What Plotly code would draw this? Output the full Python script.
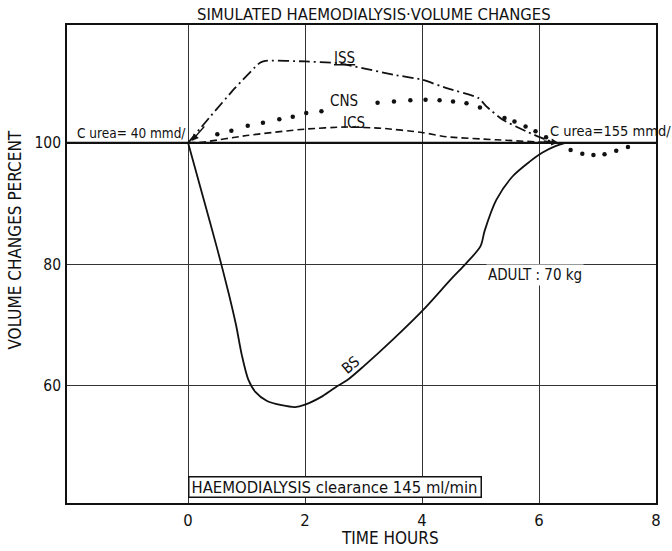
import plotly.graph_objects as go

# ---- data ----
iss_t = [0, 0.36, 0.8, 1.23, 1.32, 2.0, 2.56, 3.52, 4.0, 4.42, 4.96, 5.10, 5.38, 5.78, 6.12, 6.3]
iss_v = [100, 104.1, 109.0, 113.2, 113.5, 113.4, 113.1, 111.2, 110.4, 109.0, 107.4, 106.0, 103.8, 101.9, 100.5, 100]

cns_t = [0.50, 0.74, 1.02, 1.28, 1.56, 1.79, 2.02, 2.28, 3.24, 3.52, 3.80, 4.06, 4.30, 4.53, 4.76, 4.99,
         5.41, 5.58, 5.77, 5.94, 6.12, 6.54, 6.74, 6.93, 7.12, 7.32, 7.52]
cns_v = [101.4, 102.0, 102.8, 103.3, 103.9, 104.3, 104.9, 105.2, 106.6, 106.8, 107.0, 107.1, 107.0, 106.8,
         106.5, 105.8, 104.1, 103.5, 102.7, 101.9, 100.9, 98.8, 98.2, 98.0, 98.1, 98.7, 99.3]

ics_t = [0, 0.24, 1.0, 1.99, 2.7, 3.3, 4.0, 4.42, 5.27, 6.3]
ics_v = [100, 100.1, 101.2, 102.25, 102.6, 102.4, 101.7, 101.0, 100.5, 100]

bs_t = [0, 0.27, 0.5, 0.7, 0.82, 0.92, 1.03, 1.15, 1.35, 1.6, 1.83, 2.0, 2.3, 2.56, 2.73, 3.0, 3.5,
        4.02, 4.5, 4.73, 5.0, 5.07, 5.27, 5.55, 5.84, 6.06, 6.29, 6.45]
bs_v = [100, 90.6, 82.5, 75, 70, 65, 61.0, 59.0, 57.5, 56.8, 56.5, 56.9, 58.3, 60.0, 61.0, 63.2, 67.6,
        72.5, 77.6, 79.9, 83.0, 85.5, 90.6, 94.5, 96.9, 98.4, 99.5, 100]

x_ticks = [0, 2, 4, 6, 8]
y_ticks = [60, 80, 100]

FONT = "DejaVu Sans Condensed, Liberation Sans Narrow, sans-serif"
INK = "#111"

fig = go.Figure()

# baseline 100 %
fig.add_trace(go.Scatter(x=[-2.07, 8], y=[100, 100], mode="lines",
                         line=dict(color=INK, width=2.2), hoverinfo="skip"))

fig.add_trace(go.Scatter(x=iss_t, y=iss_v, mode="lines", name="ISS",
                         line=dict(color=INK, width=1.8, dash="11px,4px,2px,4px",
                                   shape="spline", smoothing=0.5)))
fig.add_trace(go.Scatter(x=ics_t, y=ics_v, mode="lines", name="ICS",
                         line=dict(color=INK, width=1.6, dash="7px,4px",
                                   shape="spline", smoothing=0.6)))
fig.add_trace(go.Scatter(x=cns_t, y=cns_v, mode="markers", name="CNS",
                         marker=dict(color=INK, size=4.5)))
fig.add_trace(go.Scatter(x=bs_t, y=bs_v, mode="lines", name="BS",
                         line=dict(color=INK, width=1.8, shape="spline", smoothing=0.8)))

ann = []
def txt(x, y, s, size=14, **kw):
    d = dict(x=x, y=y, text=s, showarrow=False, xanchor="center", yanchor="middle",
             font=dict(family=FONT, size=size, color=INK))
    d.update(kw)
    ann.append(d)

txt(0.522, 1.023, "SIMULATED HAEMODIALYSIS·VOLUME CHANGES", size=16.5, xref="paper", yref="paper")
txt(3.46, -0.073, "TIME HOURS", size=17, yref="paper")
txt(-0.0875, 0.55, "VOLUME CHANGES PERCENT", size=17, xref="paper", yref="paper", textangle=-90)
txt(2.68, 113.9, "<u>ISS</u>", size=15)
txt(2.66, 106.9, "CNS", size=15)
txt(2.83, 103.2, "ICS", size=15)
txt(2.78, 63.4, "BS", size=15, textangle=-40)
txt(-1.94, 101.6, "C urea= 40 mmd/", size=13.5, xanchor="left")
txt(6.15, 102.0, "C urea=155 mmd/", size=14.5, xanchor="left")
txt(5.1, 78.3, "ADULT : 70 kg", size=15, xanchor="left", bgcolor="white")
txt(0.0, 43.4, "HAEMODIALYSIS clearance 145 ml/min", size=16.5, xanchor="left", align="left",
    bgcolor="white", bordercolor=INK, borderwidth=1.5, borderpad=2, width=287, height=15)

# arrowheads
ann.append(dict(x=0.06, y=100.3, ax=14, ay=-16, text="", showarrow=True, arrowhead=2,
                arrowwidth=1.4, arrowcolor=INK, arrowsize=1))
ann.append(dict(x=6.33, y=100.0, ax=-16, ay=-2, text="", showarrow=True, arrowhead=2,
                arrowwidth=1.4, arrowcolor=INK, arrowsize=1))

fig.update_layout(
    width=672, height=551,
    margin=dict(l=67, r=11, t=25, b=48),
    paper_bgcolor="white", plot_bgcolor="white",
    showlegend=False,
    annotations=ann,
    font=dict(family=FONT, color=INK),
    xaxis=dict(range=[-2.07, 8], tickvals=x_ticks, showgrid=True, gridcolor="#333", gridwidth=1.1,
               zeroline=False, showline=True, linecolor=INK, linewidth=1.6, mirror=True,
               ticks="", tickfont=dict(family=FONT, size=16.5, color=INK), ticklabelstandoff=1),
    yaxis=dict(range=[40.7, 119.4], tickvals=y_ticks, showgrid=True, gridcolor="#333", gridwidth=1.1,
               zeroline=False, showline=True, linecolor=INK, linewidth=1.6, mirror=True,
               ticks="", tickfont=dict(family=FONT, size=15.5, color=INK), ticklabelstandoff=1),
)

fig.write_html("out.html")
